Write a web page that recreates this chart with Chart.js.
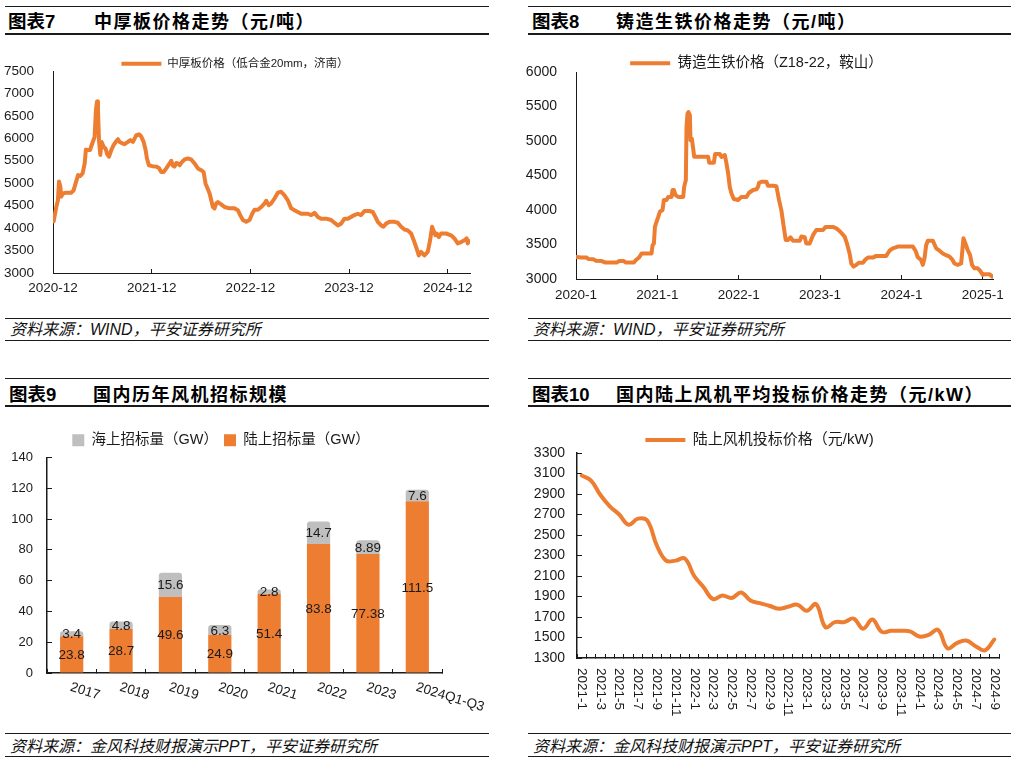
<!DOCTYPE html>
<html lang="zh-CN">
<head>
<meta charset="utf-8">
<title>钢材价格与风机招标</title>
<script src="https://cdn.jsdelivr.net/npm/chart.js"></script>
<style>
  html, body { margin: 0; padding: 0; background: #fff; }
  body { width: 1017px; height: 763px; position: relative; overflow: hidden;
         font-family: "Liberation Sans", "Noto Sans CJK SC", sans-serif; color: #000; }
  .rule { position: absolute; background: #1a1a1a; }
  .tag { position: absolute; font-size: 18.5px; line-height: 20px; font-weight: bold; white-space: nowrap; }
  .title { position: absolute; font-size: 18px; line-height: 20px; font-weight: bold; letter-spacing: 1.5px; white-space: nowrap; }
  .src { position: absolute; font-size: 16px; line-height: 18px; font-style: italic; white-space: nowrap; color: #111; }
  .box { position: absolute; }
</style>
</head>
<body>

<!-- 图表7 -->
<div class="rule" style="left:5px;top:6px;width:484px;height:1px"></div>
<div class="tag" style="left:8px;top:12px">图表7</div>
<div class="title" style="left:94px;top:12px">中厚板价格走势（元/吨）</div>
<div class="rule" style="left:5px;top:33px;width:484px;height:2px"></div>
<div class="box" style="left:0;top:36px;width:500px;height:280px"><canvas id="c7"></canvas></div>
<div class="rule" style="left:5px;top:318px;width:484px;height:1px"></div>
<div class="src" style="left:10px;top:321px">资料来源：WIND，平安证券研究所</div>
<div class="rule" style="left:5px;top:340px;width:484px;height:1px"></div>

<!-- 图表8 -->
<div class="rule" style="left:528px;top:6px;width:483px;height:1px"></div>
<div class="tag" style="left:532px;top:12px">图表8</div>
<div class="title" style="left:616px;top:12px">铸造生铁价格走势（元/吨）</div>
<div class="rule" style="left:528px;top:33px;width:483px;height:2px"></div>
<div class="box" style="left:520px;top:36px;width:497px;height:280px"><canvas id="c8"></canvas></div>
<div class="rule" style="left:528px;top:318px;width:483px;height:1px"></div>
<div class="src" style="left:533px;top:321px">资料来源：WIND，平安证券研究所</div>
<div class="rule" style="left:528px;top:340px;width:483px;height:1px"></div>

<!-- 图表9 -->
<div class="rule" style="left:5px;top:378px;width:484px;height:1px"></div>
<div class="tag" style="left:9px;top:385px">图表9</div>
<div class="title" style="left:93px;top:385px">国内历年风机招标规模</div>
<div class="rule" style="left:5px;top:405px;width:484px;height:2px"></div>
<div class="box" style="left:0;top:408px;width:500px;height:324px"><canvas id="c9"></canvas></div>
<div class="rule" style="left:5px;top:733px;width:484px;height:1px"></div>
<div class="src" style="left:10px;top:738px">资料来源：金风科技财报演示PPT，平安证券研究所</div>
<div class="rule" style="left:5px;top:756px;width:484px;height:1px"></div>

<!-- 图表10 -->
<div class="rule" style="left:528px;top:378px;width:483px;height:1px"></div>
<div class="tag" style="left:532px;top:385px">图表10</div>
<div class="title" style="left:616px;top:385px">国内陆上风机平均投标价格走势（元/kW）</div>
<div class="rule" style="left:528px;top:405px;width:483px;height:2px"></div>
<div class="box" style="left:520px;top:408px;width:497px;height:324px"><canvas id="c10"></canvas></div>
<div class="rule" style="left:528px;top:733px;width:483px;height:1px"></div>
<div class="src" style="left:533px;top:738px">资料来源：金风科技财报演示PPT，平安证券研究所</div>
<div class="rule" style="left:528px;top:756px;width:483px;height:1px"></div>

<script>
// 图表7：中厚板价格（低合金20mm，济南），横轴为距2020-12的月数
const plateTickLabels = ['2020-12', '2021-12', '2022-12', '2023-12', '2024-12'];
const plateMonths = [0.08, 0.4, 0.6, 0.73, 0.9, 1.0, 1.2, 1.6, 2.2, 2.5, 2.8, 3.05, 3.3, 3.6, 3.85, 4.0, 4.2, 4.5, 4.78, 5.06,
  5.22, 5.35, 5.47, 5.59, 5.75, 5.91, 6.16, 6.4, 6.56, 6.8, 7.09, 7.37, 7.7, 7.9, 8.1, 8.42, 8.71, 9.11, 9.4, 9.72,
  10.13, 10.45, 10.73, 11.02, 11.26, 11.42, 11.66, 12.07, 12.56, 12.88, 13.16, 13.45, 13.77, 14.18, 14.38, 14.58, 14.78, 14.98, 15.19, 15.39,
  15.71, 16.0, 16.4, 16.8, 17.21, 17.62, 18.02, 18.31, 18.55, 18.71, 19.04, 19.24, 19.44, 19.64, 19.85, 20.05, 20.45, 20.86, 21.46, 22.07,
  22.48, 22.76, 23.09, 23.49, 23.9, 24.22, 24.5, 24.91, 25.31, 25.72, 25.92, 26.24, 26.53, 26.93, 27.34, 27.74, 28.15, 28.55, 28.96, 29.36,
  29.77, 30.17, 30.58, 30.98, 31.39, 31.79, 32.2, 32.6, 33.21, 33.82, 34.22, 34.63, 35.03, 35.44, 35.84, 36.25, 36.65, 37.06, 37.46, 37.87,
  38.48, 38.88, 39.2, 39.49, 39.9, 40.18, 40.5, 40.91, 41.52, 41.92, 42.33, 42.73, 43.13, 43.54, 43.94, 44.22, 44.47, 44.75, 45.16, 45.56,
  45.85, 46.09, 46.25, 46.49, 46.66, 46.9, 47.18, 47.79, 48.4, 48.81, 49.21, 49.61, 50.02, 50.3, 50.42, 50.62];
const platePrice = [4150, 4470, 4620, 5040, 4920, 4700, 4770, 4790, 4790, 4840, 5030, 5180, 5160, 5220, 5440, 5750, 5740, 5740, 5890, 6030,
  6630, 6820, 6630, 5960, 5630, 5920, 5810, 5770, 5660, 5590, 5740, 5850, 5940, 5980, 5920, 5890, 5870, 5920, 5960, 5920,
  6070, 6090, 6040, 5920, 5740, 5550, 5400, 5380, 5370, 5340, 5250, 5250, 5330, 5440, 5500, 5390, 5370, 5450, 5440, 5400,
  5480, 5530, 5550, 5530, 5440, 5330, 5290, 5250, 4990, 4920, 4770, 4620, 4470, 4440, 4550, 4580, 4530, 4470, 4440, 4440,
  4400, 4290, 4180, 4140, 4180, 4320, 4410, 4410, 4470, 4550, 4610, 4510, 4550, 4660, 4790, 4810, 4730, 4620, 4440, 4400,
  4360, 4320, 4320, 4320, 4290, 4340, 4250, 4210, 4210, 4180, 4120, 4060, 4100, 4210, 4210, 4250, 4290, 4320, 4290, 4380,
  4380, 4360, 4250, 4140, 4060, 4030, 4100, 4140, 4140, 4120, 4030, 3970, 3950, 3880, 3690, 3540, 3390, 3470, 3390, 3470,
  3730, 4030, 3950, 3840, 3880, 3800, 3880, 3880, 3840, 3770, 3660, 3690, 3730, 3770, 3660, 3710];

// 图表8：铸造生铁价格（Z18-22，鞍山），横轴为距2020-1的月数
const ironTickLabels = ['2020-1', '2021-1', '2022-1', '2023-1', '2024-1', '2025-1'];
const ironMonths = [0, 0.83, 1.57, 1.82, 2.55, 2.95, 3.8, 4.27, 5.0, 6.0, 6.38, 7.0, 7.36, 7.95, 8.54, 8.84, 9.33, 9.67, 10.16, 10.9,
  11.14, 11.29, 11.49, 11.64, 11.88, 12.13, 12.37, 12.76, 12.96, 13.35, 13.6, 14.09, 14.24, 14.43, 14.68, 15.07, 15.81, 15.95, 16.2, 16.3,
  16.44, 16.59, 16.79, 16.89, 17.08, 17.28, 17.43, 18.26, 19.49, 19.64, 20.33, 20.52, 21.21, 21.46, 21.95, 22.19, 22.44, 22.68, 22.93, 23.27,
  23.91, 24.4, 25.14, 25.53, 26.12, 26.61, 26.85, 27.0, 27.34, 28.08, 28.32, 29.06, 29.55, 29.94, 30.29, 30.63, 30.93, 31.27, 31.62, 32.01,
  33.0, 33.24, 33.73, 33.97, 34.46, 34.95, 35.44, 36.43, 36.82, 37.9, 38.39, 38.98, 39.62, 39.96, 40.35, 40.6, 40.94, 41.33, 41.72, 42.32,
  42.71, 43.05, 43.79, 44.28, 44.77, 45.75, 46.24, 46.73, 47.46, 48.2, 48.94, 49.68, 50.07, 50.41, 50.9, 51.15, 51.4, 51.64, 51.89, 52.63,
  53.12, 53.61, 54.1, 54.59, 55.08, 55.47, 55.82, 56.31, 56.8, 56.94, 57.14, 57.43, 57.77, 58.12, 58.41, 58.76, 59.25, 59.59, 59.99, 60.37,
  60.96, 61.4];
const ironPrice = [3320, 3310, 3310, 3290, 3285, 3265, 3260, 3240, 3240, 3240, 3260, 3260, 3240, 3240, 3240, 3275, 3315, 3370, 3370, 3370,
  3370, 3490, 3515, 3755, 3830, 3900, 3975, 4000, 4145, 4145, 4190, 4190, 4290, 4290, 4215, 4190, 4190, 4335, 4435, 5205,
  5395, 5420, 5375, 5010, 5035, 4890, 4770, 4770, 4770, 4685, 4685, 4810, 4810, 4770, 4795, 4675, 4530, 4335, 4240, 4160,
  4145, 4190, 4190, 4250, 4290, 4300, 4335, 4395, 4410, 4410, 4350, 4350, 4345, 4145, 3995, 3760, 3565, 3565, 3605, 3555,
  3555, 3615, 3605, 3515, 3515, 3635, 3710, 3710, 3755, 3755, 3735, 3685, 3615, 3515, 3370, 3225, 3180, 3205, 3235, 3235,
  3285, 3310, 3310, 3335, 3335, 3335, 3410, 3445, 3470, 3470, 3470, 3470, 3410, 3315, 3275, 3205, 3300, 3490, 3555, 3555,
  3445, 3410, 3370, 3345, 3325, 3285, 3225, 3205, 3225, 3370, 3590, 3515, 3420, 3345, 3205, 3155, 3155, 3120, 3060, 3070,
  3070, 3035];

// 图表9：国内历年风机招标规模（GW）
const bidYears = ['2017', '2018', '2019', '2020', '2021', '2022', '2023', '2024Q1-Q3'];
const onshoreGW = [23.8, 28.7, 49.6, 24.9, 51.4, 83.8, 77.38, 111.5];
const offshoreGW = [3.4, 4.8, 15.6, 6.3, 2.8, 14.7, 8.89, 7.6];

// 图表10：陆上风机投标价格（元/kW）
const bidMonths = ['2021-1', '2021-2', '2021-3', '2021-4', '2021-5', '2021-6', '2021-7', '2021-8', '2021-9', '2021-10', '2021-11', '2021-12',
  '2022-1', '2022-2', '2022-3', '2022-4', '2022-5', '2022-6', '2022-7', '2022-8', '2022-9', '2022-10', '2022-11', '2022-12',
  '2023-1', '2023-2', '2023-3', '2023-4', '2023-5', '2023-6', '2023-7', '2023-8', '2023-9', '2023-10', '2023-11', '2023-12',
  '2024-1', '2024-2', '2024-3', '2024-4', '2024-5', '2024-6', '2024-7', '2024-8', '2024-9'];
const onshoreBidPrice = [3080, 3030, 2890, 2780, 2700, 2600, 2660, 2640, 2400, 2250, 2250, 2270,
  2100, 1990, 1875, 1910, 1885, 1940, 1860, 1835, 1810, 1780, 1800, 1820,
  1760, 1825, 1600, 1650, 1650, 1685, 1585, 1675, 1555, 1565, 1565, 1560,
  1510, 1525, 1575, 1395, 1445, 1470, 1415, 1375, 1480];

const ORANGE = '#ED7D31';
const GREY = '#BFBFBF';
const INK = '#1a1a1a';
const FONT = '"Liberation Sans", "Noto Sans CJK SC", sans-serif';

Chart.defaults.font.family = FONT;
Chart.defaults.color = INK;
Chart.defaults.animation = false;

const fixWidth = w => s => { s.width = w; };
const fixHeight = h => s => { s.height = h; };
const plain = v => String(v);   // 不要千分位逗号

// 横轴文字顺时针旋转，Chart.js 自带只会逆时针转，所以自己画
const rotatedLabels = {
  id: 'rotatedLabels',
  afterDraw(chart, args, opts) {
    const xs = chart.scales.x;
    const ctx = chart.ctx;
    ctx.save();
    ctx.font = opts.size + 'px ' + FONT;
    ctx.fillStyle = INK;
    ctx.textAlign = 'left';
    ctx.textBaseline = 'middle';
    chart.data.labels.forEach((lab, i) => {
      if (i % opts.every) return;
      ctx.save();
      ctx.translate(xs.getPixelForValue(i) + opts.dx, xs.top + opts.dy);
      ctx.rotate(opts.angle * Math.PI / 180);
      ctx.fillText(lab, 0, 0);
      ctx.restore();
    });
    ctx.restore();
  }
};

// 柱内数值标签
const barValues = {
  id: 'barValues',
  afterDatasetsDraw(chart) {
    const ctx = chart.ctx;
    ctx.save();
    ctx.font = '13.5px ' + FONT;
    ctx.fillStyle = INK;
    ctx.textAlign = 'center';
    ctx.textBaseline = 'middle';
    chart.data.datasets.forEach((ds, di) => {
      chart.getDatasetMeta(di).data.forEach((bar, i) => {
        ctx.fillText(String(ds.data[i]), bar.x, (bar.y + bar.base) / 2 + 1);
      });
    });
    ctx.restore();
  }
};

function lineLegend(size, padding, maxHeight) {
  return {
    position: 'top',
    maxHeight: maxHeight,
    labels: {
      usePointStyle: true, pointStyle: 'line', pointStyleWidth: 40,
      font: { size: size }, color: INK, padding: padding
    }
  };
}

function priceChart(id, months, prices, label, tickLabels, o) {
  return new Chart(document.getElementById(id), {
    type: 'line',
    data: {
      datasets: [{
        label: label,
        data: months.map((m, i) => ({ x: m, y: prices[i] })),
        borderColor: ORANGE,
        backgroundColor: ORANGE,
        borderWidth: 4,
        borderCapStyle: 'round',
        borderJoinStyle: 'round',
        pointRadius: 0,
        tension: 0
      }]
    },
    options: {
      responsive: true,
      maintainAspectRatio: false,
      layout: { padding: { left: 0, right: o.padRight, top: 0, bottom: 0 } },
      plugins: { legend: lineLegend(o.legendSize, o.legendPad, o.legendHeight), tooltip: { enabled: false } },
      scales: {
        x: {
          type: 'linear', min: 0, max: o.xMax,
          afterFit: fixHeight(o.xHeight),
          border: { color: INK, width: 1 },
          grid: { drawOnChartArea: false, tickLength: -4, color: INK },
          ticks: {
            stepSize: 12, includeBounds: false, maxRotation: 0, autoSkip: false,
            padding: o.xPad, font: { size: 13.5 }, color: INK,
            callback: v => tickLabels[Math.round(v / 12)]
          }
        },
        y: {
          min: o.yMin, max: o.yMax,
          afterFit: fixWidth(o.yWidth),
          border: { color: INK, width: 1 },
          grid: { display: false },
          ticks: { stepSize: 500, padding: 11, font: { size: o.ySize }, color: INK, callback: plain }
        }
      }
    }
  });
}

priceChart('c7', plateMonths, platePrice, '中厚板价格（低合金20mm，济南）', plateTickLabels, {
  padRight: 30, xMax: 50.7, xHeight: 43, xPad: 11, yMin: 3000, yMax: 7500, yWidth: 53, ySize: 13.5,
  legendSize: 11.5, legendPad: 22, legendHeight: 35
});

priceChart('c8', ironMonths, ironPrice, '铸造生铁价格（Z18-22，鞍山）', ironTickLabels, {
  padRight: 24, xMax: 61.5, xHeight: 37, xPad: 12, yMin: 3000, yMax: 6000, yWidth: 56, ySize: 14,
  legendSize: 14.5, legendPad: 20, legendHeight: 36
});

new Chart(document.getElementById('c9'), {
  type: 'bar',
  data: {
    labels: bidYears,
    datasets: [
      { label: '陆上招标量（GW）', data: onshoreGW, backgroundColor: ORANGE,
        categoryPercentage: 1, barPercentage: 0.47 },
      { label: '海上招标量（GW）', data: offshoreGW, backgroundColor: GREY,
        borderRadius: { topLeft: 3, topRight: 3, bottomLeft: 0, bottomRight: 0 }, borderSkipped: false,
        categoryPercentage: 1, barPercentage: 0.47 }
    ]
  },
  plugins: [barValues, rotatedLabels],
  options: {
    responsive: true,
    maintainAspectRatio: false,
    layout: { padding: { left: 0, right: 58, top: 19, bottom: 0 } },
    plugins: {
      legend: {
        position: 'top', reverse: true,
        labels: { boxWidth: 12, boxHeight: 12, font: { size: 14.5 }, color: INK, padding: 6 }
      },
      tooltip: { enabled: false },
      rotatedLabels: { size: 13.5, every: 1, angle: 17, dx: -1, dy: 14 }
    },
    scales: {
      x: {
        stacked: true,
        afterFit: fixHeight(59),
        border: { color: INK, width: 1.5 },
        grid: { drawOnChartArea: false, tickLength: -4, color: INK, offset: true },
        ticks: { display: false }
      },
      y: {
        stacked: true, min: 0, max: 140,
        afterFit: fixWidth(47),
        border: { color: INK, width: 1.5 },
        grid: { drawOnChartArea: false, tickLength: -5, color: INK },
        ticks: { stepSize: 20, padding: 19, font: { size: 13 }, color: INK, callback: plain }
      }
    }
  }
});

new Chart(document.getElementById('c10'), {
  type: 'line',
  data: {
    labels: bidMonths,
    datasets: [{
      label: '陆上风机投标价格（元/kW)',
      data: onshoreBidPrice,
      borderColor: ORANGE,
      backgroundColor: ORANGE,
      borderWidth: 4,
      borderCapStyle: 'round',
      pointRadius: 0,
      tension: 0.4
    }]
  },
  plugins: [rotatedLabels],
  options: {
    responsive: true,
    maintainAspectRatio: false,
    layout: { padding: { left: 0, right: 18, top: 0, bottom: 0 } },
    plugins: {
      legend: lineLegend(15, 24.5, 45),
      tooltip: { enabled: false },
      rotatedLabels: { size: 13.5, every: 2, angle: 90, dx: 0, dy: 10 }
    },
    scales: {
      x: {
        offset: true,
        afterFit: fixHeight(74),
        border: { color: INK, width: 1.5 },
        grid: { drawOnChartArea: false, tickLength: -4, color: INK, offset: true },
        ticks: { display: false, autoSkip: false }
      },
      y: {
        min: 1300, max: 3300,
        afterFit: fixWidth(57),
        border: { color: INK, width: 1.5 },
        grid: { drawOnChartArea: false, tickLength: -5, color: INK },
        ticks: { stepSize: 200, padding: 17, font: { size: 14 }, color: INK, callback: plain }
      }
    }
  }
});
</script>
</body>
</html>
